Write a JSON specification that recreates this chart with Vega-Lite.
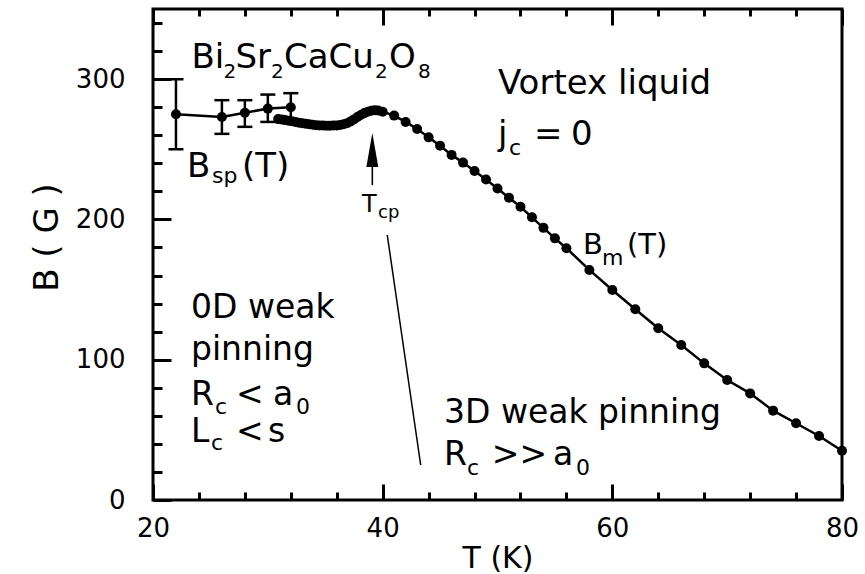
{
  "$schema": "https://vega.github.io/schema/vega-lite/v6.json",
  "width": 689,
  "height": 491,
  "autosize": "none",
  "padding": {"left": 153, "top": 9, "right": 23, "bottom": 74},
  "background": "white",
  "config": {
    "view": {"stroke": "black", "strokeWidth": 3},
    "font": "DejaVu Sans",
    "axis": {"grid": false, "domain": false, "tickColor": "black", "tickWidth": 3, "labelColor": "black", "titleColor": "black", "labelFont": "DejaVu Sans", "titleFont": "DejaVu Sans", "titleFontWeight": "normal", "labelOverlap": false, "labelFlush": false, "labelBound": false},
    "text": {"font": "DejaVu Sans", "color": "black", "align": "left", "baseline": "alphabetic"}
  },
  "datasets": {
    "curve": [{"T":30.9,"B":271.5},{"T":31.2,"B":271.2},{"T":31.5,"B":270.8},{"T":31.8,"B":270.4},{"T":32.1,"B":270.0},{"T":32.4,"B":269.5},{"T":32.7,"B":269.0},{"T":33.0,"B":268.6},{"T":33.3,"B":268.2},{"T":33.6,"B":267.8},{"T":33.9,"B":267.5},{"T":34.2,"B":267.2},{"T":34.5,"B":267.0},{"T":34.8,"B":266.9},{"T":35.1,"B":266.8},{"T":35.4,"B":266.8},{"T":35.7,"B":266.9},{"T":36.0,"B":267.0},{"T":36.3,"B":267.3},{"T":36.6,"B":267.8},{"T":36.9,"B":268.6},{"T":37.2,"B":269.8},{"T":37.5,"B":271.3},{"T":37.8,"B":273.0},{"T":38.1,"B":274.5},{"T":38.4,"B":275.8},{"T":38.7,"B":276.8},{"T":39.0,"B":277.5},{"T":39.3,"B":277.8},{"T":39.6,"B":277.6},{"T":40.0,"B":276.8},{"T":41,"B":274.0},{"T":42,"B":269.5},{"T":43,"B":264.5},{"T":44,"B":258.5},{"T":45,"B":252.5},{"T":46,"B":246.0},{"T":47,"B":240.5},{"T":48,"B":234.5},{"T":49,"B":228.5},{"T":50,"B":222.0},{"T":51,"B":215.5},{"T":52,"B":209.0},{"T":53,"B":201.5},{"T":54,"B":194.0},{"T":55,"B":186.5},{"T":56,"B":179.5},{"T":58,"B":164.0},{"T":60,"B":149.7},{"T":62,"B":136.0},{"T":64,"B":122.4},{"T":66,"B":110.5},{"T":68,"B":97.4},{"T":70,"B":85.5},{"T":72,"B":76.0},{"T":74,"B":63.7},{"T":76,"B":54.7},{"T":78,"B":45.6},{"T":80,"B":35.1}],
    "bsp": [{"T":22.0,"B":275,"lo":250,"hi":300},{"T":26.0,"B":273,"lo":261,"hi":285},{"T":28.0,"B":276,"lo":266,"hi":285},{"T":30.0,"B":279,"lo":269.5,"hi":289},{"T":32.0,"B":280,"lo":270,"hi":290}],
    "lines": [{"T":40.4,"B":188.9,"T2":43.31,"B2":24.95}],
    "arrow": [{"T":39.1,"B":243.07}],
    "labels": [
      {"T":23.353,"B":307.94,"text":"Bi","kind":"big"},
      {"T":27.184,"B":307.94,"text":"Sr","kind":"big"},
      {"T":31.408,"B":307.94,"text":"CaCu","kind":"big"},
      {"T":40.552,"B":307.94,"text":"O","kind":"big"},
      {"T":26.139,"B":300.82,"text":"2","kind":"formsub"},
      {"T":30.276,"B":300.82,"text":"2","kind":"formsub"},
      {"T":39.333,"B":300.82,"text":"2","kind":"formsub"},
      {"T":43.077,"B":300.82,"text":"8","kind":"formsub"},
      {"T":50.044,"B":289.41,"text":"Vortex liquid","kind":"big"},
      {"T":50.044,"B":253.06,"text":"j","kind":"big"},
      {"T":51.002,"B":245.93,"text":"c","kind":"sub"},
      {"T":53.18,"B":253.06,"text":"=","kind":"big"},
      {"T":56.401,"B":253.06,"text":"0","kind":"big"},
      {"T":22.961,"B":230.25,"text":"B","kind":"big"},
      {"T":25.138,"B":225.97,"text":"sp","kind":"sub"},
      {"T":27.751,"B":230.25,"text":"(T)","kind":"big"},
      {"T":57.447,"B":175.71,"text":"B","kind":"mid"},
      {"T":59.101,"B":167.52,"text":"m","kind":"sub"},
      {"T":61.278,"B":175.71,"text":"(T)","kind":"mid"},
      {"T":38.20,"B":205.51,"text":"T","kind":"tcp"},
      {"T":39.594,"B":201.02,"text":"cp","kind":"tcpsub"},
      {"T":23.309,"B":129.52,"text":"0D weak","kind":"region"},
      {"T":23.309,"B":99.80,"text":"pinning","kind":"region"},
      {"T":23.309,"B":67.72,"text":"R","kind":"region"},
      {"T":25.399,"B":61.30,"text":"c","kind":"sub"},
      {"T":27.228,"B":67.72,"text":"<","kind":"region"},
      {"T":30.450,"B":67.72,"text":"a","kind":"region"},
      {"T":32.453,"B":61.30,"text":"0","kind":"sub"},
      {"T":23.309,"B":41.56,"text":"L","kind":"region"},
      {"T":25.051,"B":35.64,"text":"c","kind":"sub"},
      {"T":27.228,"B":41.56,"text":"<","kind":"region"},
      {"T":30.015,"B":41.56,"text":"s","kind":"region"},
      {"T":45.342,"B":54.89,"text":"3D weak pinning","kind":"region"},
      {"T":45.342,"B":24.95,"text":"R","kind":"region"},
      {"T":47.345,"B":17.82,"text":"c","kind":"sub"},
      {"T":49.5,"B":24.95,"text":">>","kind":"region"},
      {"T":54.834,"B":24.95,"text":"a","kind":"region"},
      {"T":56.84,"B":17.82,"text":"0","kind":"sub"}
    ]
  },
  "encoding": {
    "x": {"field": "T", "type": "quantitative", "scale": {"domain": [20, 80], "nice": false, "zero": false}, "axis": null},
    "y": {"field": "B", "type": "quantitative", "scale": {"domain": [0, 350], "nice": false, "zero": false}, "axis": null}
  },
  "layer": [
    {
      "data": {"name": "curve"},
      "mark": {"type": "line", "color": "black", "strokeWidth": 2.5},
      "encoding": {
        "x": {"field": "T", "type": "quantitative", "scale": {"domain": [20, 80], "nice": false, "zero": false},
          "axis": {"orient": "bottom", "values": [20, 40, 60, 80], "offset": -16, "tickSize": 16,
            "labelFontSize": 26, "labelPadding": 15, "title": "T (K)", "titleFontSize": 30, "titleY": 83, "titleBaseline": "alphabetic"}},
        "y": {"field": "B", "type": "quantitative", "scale": {"domain": [0, 350], "nice": false, "zero": false},
          "axis": {"orient": "left", "values": [0, 100, 200, 300], "offset": -18, "tickSize": 18,
            "labelFontSize": 26, "labelPadding": 28, "title": "B ( G )", "titleFontSize": 34,
            "titleX": -124, "titleY": 228, "titleAlign": "center", "titleBaseline": "middle", "titleAngle": -90}}
      }
    },
    {
      "data": {"name": "curve"},
      "mark": {"type": "point", "filled": true, "size": 100, "color": "black", "opacity": 1, "strokeWidth": 0},
      "encoding": {
        "x": {"field": "T", "type": "quantitative", "scale": {"domain": [20, 80], "nice": false, "zero": false},
          "axis": {"orient": "bottom", "values": [24,28,32,36,44,48,52,56,64,68,72,76], "offset": -8, "tickSize": 8, "labels": false, "title": null}},
        "y": {"field": "B", "type": "quantitative", "scale": {"domain": [0, 350], "nice": false, "zero": false},
          "axis": {"orient": "left", "values": [20,40,60,80,120,140,160,180,220,240,260,280,320,340], "offset": -9, "tickSize": 9, "labels": false, "title": null}}
      }
    },
    {
      "data": {"name": "bsp"},
      "mark": {"type": "line", "color": "black", "strokeWidth": 2.5},
      "encoding": {
        "x": {"field": "T", "type": "quantitative", "scale": {"domain": [20, 80], "nice": false, "zero": false},
          "axis": {"orient": "top", "values": [20, 40, 60, 80], "offset": -16, "tickSize": 16, "labels": false, "title": null}}
      }
    },
    {
      "data": {"name": "bsp"},
      "mark": {"type": "point", "filled": true, "size": 100, "color": "black", "opacity": 1, "strokeWidth": 0},
      "encoding": {
        "x": {"field": "T", "type": "quantitative", "scale": {"domain": [20, 80], "nice": false, "zero": false},
          "axis": {"orient": "top", "values": [24,28,32,36,44,48,52,56,64,68,72,76], "offset": -7, "tickSize": 7, "labels": false, "title": null}}
      }
    },
    {
      "data": {"name": "bsp"},
      "mark": {"type": "rule", "color": "black", "strokeWidth": 2.5},
      "encoding": {
        "y": {"field": "lo", "type": "quantitative", "scale": {"domain": [0, 350], "nice": false, "zero": false}, "axis": null},
        "y2": {"field": "hi"}
      }
    },
    {
      "data": {"name": "bsp"},
      "mark": {"type": "tick", "orient": "horizontal", "size": 15, "thickness": 2.5, "color": "black", "opacity": 1},
      "encoding": {"y": {"field": "lo", "type": "quantitative", "scale": {"domain": [0, 350], "nice": false, "zero": false}, "axis": null}}
    },
    {
      "data": {"name": "bsp"},
      "mark": {"type": "tick", "orient": "horizontal", "size": 15, "thickness": 2.5, "color": "black", "opacity": 1},
      "encoding": {"y": {"field": "hi", "type": "quantitative", "scale": {"domain": [0, 350], "nice": false, "zero": false}, "axis": null}}
    },
    {
      "data": {"name": "lines"},
      "mark": {"type": "rule", "color": "black", "strokeWidth": 1.5},
      "encoding": {"x2": {"field": "T2"}, "y2": {"field": "B2"}}
    },
    {
      "data": {"name": "arrow"},
      "mark": {"type": "point", "filled": true, "color": "black", "opacity": 1, "strokeWidth": 0, "size": 2704,
        "shape": "M0,-1L0.23,0.31L0.03,0.31L0.03,1L-0.03,1L-0.03,0.31L-0.23,0.31Z"}
    },
    {
      "data": {"name": "labels"},
      "transform": [{"filter": "datum.kind === 'big'"}],
      "mark": {"type": "text", "fontSize": 34},
      "encoding": {"text": {"field": "text"}}
    },
    {
      "data": {"name": "labels"},
      "transform": [{"filter": "datum.kind === 'region'"}],
      "mark": {"type": "text", "fontSize": 33},
      "encoding": {"text": {"field": "text"}}
    },
    {
      "data": {"name": "labels"},
      "transform": [{"filter": "datum.kind === 'sub'"}],
      "mark": {"type": "text", "fontSize": 22},
      "encoding": {"text": {"field": "text"}}
    },
    {
      "data": {"name": "labels"},
      "transform": [{"filter": "datum.kind === 'formsub'"}],
      "mark": {"type": "text", "fontSize": 20},
      "encoding": {"text": {"field": "text"}}
    },
    {
      "data": {"name": "labels"},
      "transform": [{"filter": "datum.kind === 'mid'"}],
      "mark": {"type": "text", "fontSize": 29},
      "encoding": {"text": {"field": "text"}}
    },
    {
      "data": {"name": "labels"},
      "transform": [{"filter": "datum.kind === 'tcp'"}],
      "mark": {"type": "text", "fontSize": 24},
      "encoding": {"text": {"field": "text"}}
    },
    {
      "data": {"name": "labels"},
      "transform": [{"filter": "datum.kind === 'tcpsub'"}],
      "mark": {"type": "text", "fontSize": 18},
      "encoding": {"text": {"field": "text"}}
    }
  ],
  "resolve": {"scale": {"x": "shared", "y": "shared"}, "axis": {"x": "independent", "y": "independent"}}
}
